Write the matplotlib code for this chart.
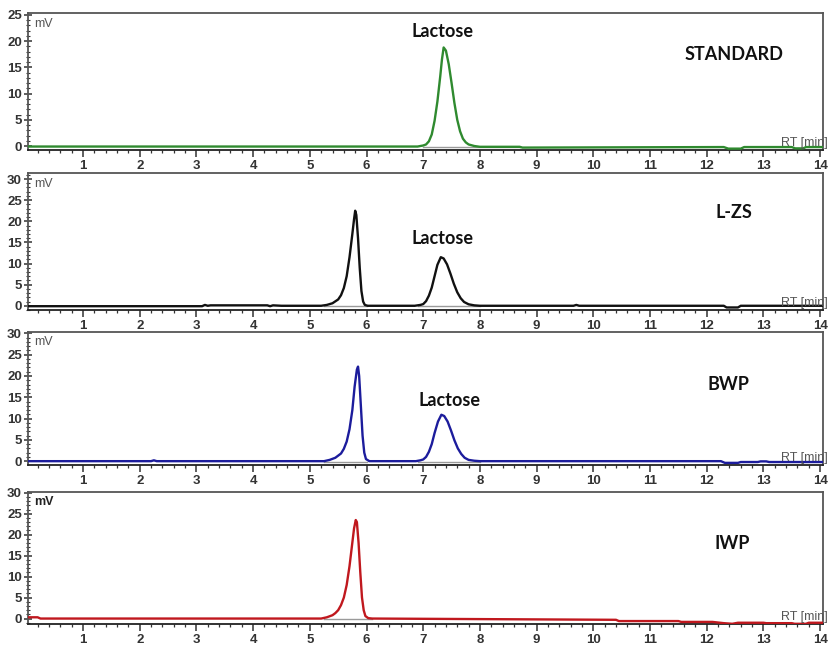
"""Four stacked HPLC chromatograms (STANDARD, L-ZS, BWP, IWP) -> out.png."""

import matplotlib
matplotlib.use("Agg")
import matplotlib.pyplot as plt
from matplotlib.ticker import MultipleLocator

STD_T = [0.03, 6.90, 7.00, 7.05, 7.10, 7.15, 7.20, 7.25, 7.30, 7.33, 7.36, 7.40, 7.45,
         7.50, 7.55, 7.60, 7.65, 7.70, 7.75, 7.80, 7.90, 8.00, 8.70, 8.75, 12.30, 12.38,
         12.60, 12.66, 13.50, 13.56, 13.70, 13.75, 14.05]
STD_MV = [-0.1, -0.1, 0.1, 0.3, 0.9, 2.2, 4.8, 8.5, 13.3, 16.5, 18.8, 18.2, 15.6,
          12.0, 8.2, 5.0, 2.8, 1.4, 0.7, 0.3, 0.0, -0.15, -0.15, -0.3, -0.2, -0.5,
          -0.5, -0.2, -0.2, -0.45, -0.45, -0.2, -0.2]

LZS_T = [0.03, 3.10, 3.15, 3.20, 3.25, 4.25, 4.30, 4.35, 4.50, 5.20, 5.30, 5.40, 5.50,
         5.55, 5.60, 5.65, 5.70, 5.75, 5.78, 5.80, 5.82, 5.85, 5.88, 5.91, 5.94, 5.97,
         6.02, 6.85, 6.95, 7.00, 7.05, 7.10, 7.15, 7.20, 7.25, 7.31, 7.36, 7.42, 7.48,
         7.54, 7.60, 7.66, 7.72, 7.80, 7.90, 8.00, 9.65, 9.70, 9.75, 12.30, 12.35,
         12.55, 12.60, 14.05]
LZS_MV = [-0.1, -0.1, 0.2, 0.0, 0.1, 0.1, -0.1, 0.1, 0.0, 0.0, 0.2, 0.6, 1.5,
          2.5, 4.2, 7.0, 11.5, 17.0, 20.5, 22.5, 21.5, 16.0, 9.0, 3.5, 1.0, 0.2,
          0.0, 0.0, 0.2, 0.4, 1.1, 2.4, 4.3, 7.0, 9.7, 11.5, 11.2, 9.8, 7.6,
          5.2, 3.2, 1.8, 0.9, 0.35, 0.1, 0.0, 0.0, 0.2, 0.0, 0.0, -0.4,
          -0.4, 0.0, 0.0]

BWP_T = [0.03, 2.20, 2.25, 2.30, 5.25, 5.35, 5.45, 5.55, 5.60, 5.65, 5.70, 5.75,
         5.79, 5.83, 5.85, 5.87, 5.90, 5.93, 5.96, 5.99, 6.05, 6.87, 6.95, 7.00,
         7.05, 7.10, 7.15, 7.20, 7.26, 7.32, 7.37, 7.43, 7.49, 7.55, 7.61, 7.67,
         7.73, 7.80, 7.90, 8.00, 12.25, 12.32, 12.55, 12.60, 12.90, 12.95, 13.05,
         13.10, 14.05]
BWP_MV = [0.0, 0.0, 0.2, 0.0, 0.0, 0.3, 0.8, 1.8, 2.9, 4.6, 7.5, 12.0,
          17.5, 21.5, 22.2, 20.0, 13.0, 6.0, 2.0, 0.5, 0.0, 0.0, 0.2, 0.4,
          1.0, 2.2, 4.0, 6.6, 9.3, 10.9, 10.6, 9.3, 7.2, 4.9, 3.0, 1.7,
          0.8, 0.3, 0.1, 0.0, 0.0, -0.4, -0.4, -0.2, -0.2, -0.05, -0.05,
          -0.2, -0.2]

IWP_T = [0.03, 0.20, 0.25, 5.20, 5.30, 5.40, 5.45, 5.50, 5.55, 5.60, 5.65, 5.70,
         5.74, 5.78, 5.81, 5.83, 5.86, 5.89, 5.92, 5.95, 5.98, 6.03, 6.10, 10.40,
         10.45, 11.50, 11.55, 12.10, 12.30, 12.45, 12.55, 13.00, 13.05, 13.50,
         13.55, 13.75, 13.80, 14.05]
IWP_MV = [0.3, 0.3, 0.0, 0.0, 0.3, 0.8, 1.3, 2.0, 3.2, 5.0, 8.0, 12.5,
          17.0, 21.5, 23.5, 23.0, 18.0, 11.0, 5.0, 2.0, 0.6, 0.1, 0.0, -0.3,
          -0.6, -0.6, -0.8, -0.8, -1.1, -1.25, -1.0, -1.0, -1.1, -1.1,
          -1.25, -1.25, -1.0, -1.0]

# integration baselines drawn in grey under the peaks: (start, end)
STD_BASE = [(7.00, 8.70)]
LZS_BASE = [(5.25, 6.00), (6.90, 8.00)]
BWP_BASE = [(5.25, 6.00), (6.90, 8.00)]
IWP_BASE = [(5.25, 6.10)]

PANELS = [
    # name, t, mV, colour, ylim, yticks top, baselines, lactose label (t, mV), name pos
    ("STANDARD", STD_T, STD_MV, "#2f8a2f", (-0.76, 25.3), 25, STD_BASE, (7.34, 21.8), (12.48, 17.4)),
    ("L-ZS", LZS_T, LZS_MV, "#111111", (-1.0, 31.5), 30, LZS_BASE, (7.34, 16.0), (12.48, 22.0)),
    ("BWP", BWP_T, BWP_MV, "#1c1c9c", (-0.9, 30.4), 30, BWP_BASE, (7.46, 14.3), (12.39, 18.0)),
    ("IWP", IWP_T, IWP_MV, "#c0181e", (-1.3, 30.25), 30, IWP_BASE, None, (12.44, 18.0)),
]

# axes boxes in pixels (top, bottom) for an 830x645 canvas
BOXES = [(13.4, 150.0), (172.7, 310.0), (331.7, 465.0), (491.7, 624.0)]
LEFT_PX, RIGHT_PX = 28.0, 823.0
W, H = 830.0, 645.0


def main():
    fig = plt.figure(figsize=(8.3, 6.45), dpi=100)
    label_font = ["Lato", "DejaVu Sans"]
    tick_font = ["Liberation Sans", "DejaVu Sans"]

    for i, (name, t, mv, color, ylim, ytop, bases, lac, name_pos) in enumerate(PANELS):
        top, bot = BOXES[i]
        ax = fig.add_axes([LEFT_PX / W, 1 - bot / H, (RIGHT_PX - LEFT_PX) / W, (bot - top) / H])

        for a, b in bases:
            ax.plot([a, b], [-0.15, -0.15], color="#9a9a9a", linewidth=1.0, zorder=2)
        ax.plot(t, mv, color=color, linewidth=1.7, zorder=3)

        ax.set_xlim(0.03, 14.05)
        ax.set_ylim(*ylim)
        ax.xaxis.set_major_locator(MultipleLocator(1))
        ax.xaxis.set_minor_locator(MultipleLocator(0.2))
        ax.set_yticks(range(0, ytop + 1, 5))
        ax.yaxis.set_minor_locator(MultipleLocator(1))

        ax.tick_params(axis="x", which="major", direction="out", length=5, width=1.1,
                       pad=2, labelsize=9.5, colors="#333333")
        ax.tick_params(axis="x", which="minor", direction="out", length=2.5, width=0.9,
                       colors="#333333")
        ax.tick_params(axis="y", which="major", direction="inout", length=6, width=1.1,
                       pad=1.5, labelsize=9.5, colors="#333333")
        ax.tick_params(axis="y", which="minor", direction="inout", length=3, width=0.8,
                       colors="#333333")
        for lab in ax.get_xticklabels() + ax.get_yticklabels():
            lab.set_fontweight("bold")
            lab.set_family(tick_font)
        ax.set_xticklabels([str(v) if v > 0 else "" for v in range(0, 15)])

        for side in ("top", "right", "left"):
            ax.spines[side].set_color("#555555")
            ax.spines[side].set_linewidth(1.3)
        ax.spines["bottom"].set_color("#222222")
        ax.spines["bottom"].set_linewidth(1.3)

        mv_kw = dict(fontweight="bold", color="#222222") if name == "IWP" else dict(color="#555555")
        ax.text(0.008, 0.965, "mV", transform=ax.transAxes, ha="left", va="top",
                fontsize=9, family=tick_font, **mv_kw)
        ax.text(1.006, 0.008, "RT [min]", transform=ax.transAxes, ha="right", va="bottom",
                fontsize=9, family=tick_font, color="#555555", clip_on=False, zorder=4)

        ax.text(name_pos[0], name_pos[1], name, ha="center", va="center", fontsize=13,
                fontweight="bold", family=label_font, color="#111111")
        if lac is not None:
            ax.text(lac[0], lac[1], "Lactose", ha="center", va="center", fontsize=13,
                    fontweight="bold", family=label_font, color="#111111")

    fig.savefig("out.png", dpi=100)


if __name__ == "__main__":
    main()
